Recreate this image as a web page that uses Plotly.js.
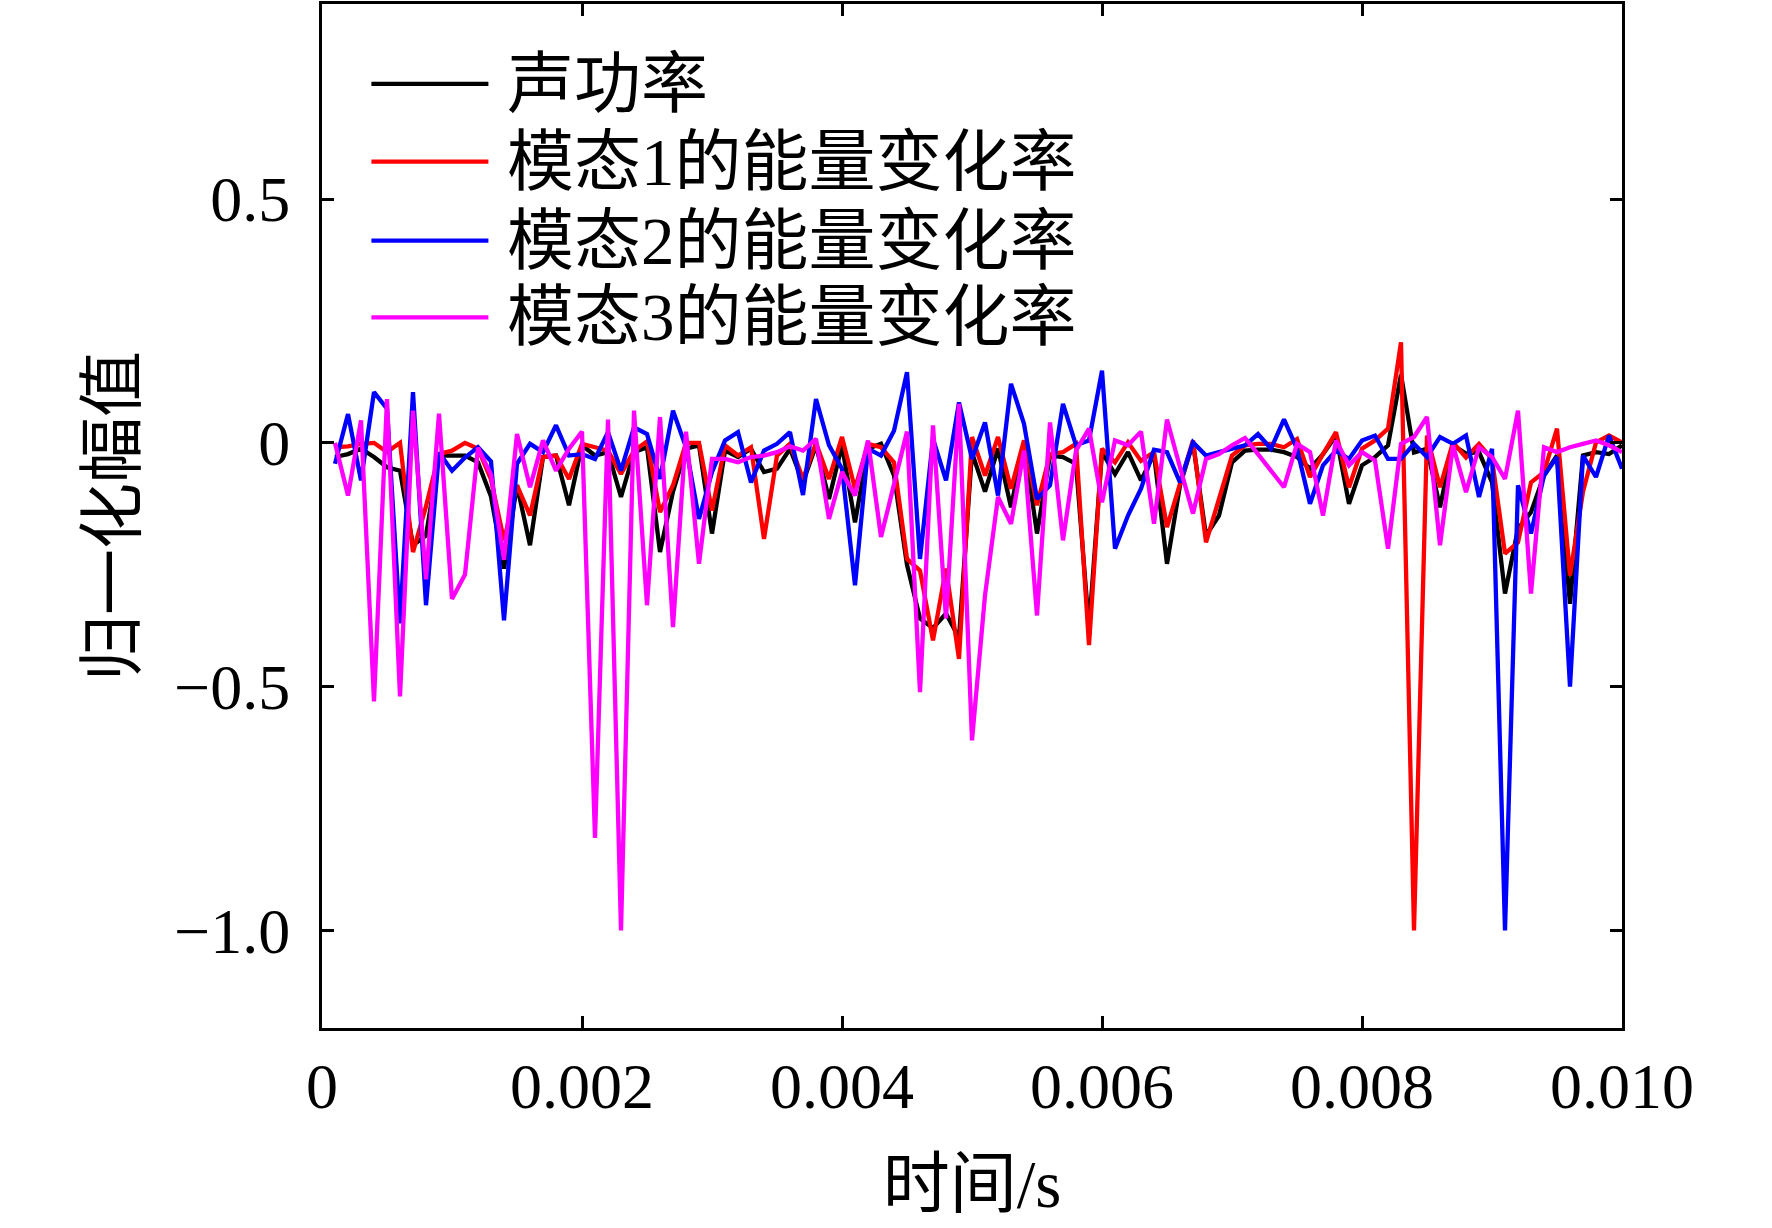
<!DOCTYPE html>
<html>
<head>
<meta charset="utf-8">
<script src="https://cdn.plot.ly/plotly-3.0.1.min.js"></script>
<style>
  html, body { margin: 0; padding: 0; background: #fff; }
  #myDiv { width: 1772px; height: 1228px; }
</style>
</head>
<body>
<div id="myDiv"></div>
<script>
// time, s (one sample every 0.1 ms)
var time = [
  0.0001, 0.0002, 0.0003, 0.0004, 0.0005, 0.0006, 0.0007, 0.0008, 0.0009, 0.0010,
  0.0011, 0.0012, 0.0013, 0.0014, 0.0015, 0.0016, 0.0017, 0.0018, 0.0019, 0.0020,
  0.0021, 0.0022, 0.0023, 0.0024, 0.0025, 0.0026, 0.0027, 0.0028, 0.0029, 0.0030,
  0.0031, 0.0032, 0.0033, 0.0034, 0.0035, 0.0036, 0.0037, 0.0038, 0.0039, 0.0040,
  0.0041, 0.0042, 0.0043, 0.0044, 0.0045, 0.0046, 0.0047, 0.0048, 0.0049, 0.0050,
  0.0051, 0.0052, 0.0053, 0.0054, 0.0055, 0.0056, 0.0057, 0.0058, 0.0059, 0.0060,
  0.0061, 0.0062, 0.0063, 0.0064, 0.0065, 0.0066, 0.0067, 0.0068, 0.0069, 0.0070,
  0.0071, 0.0072, 0.0073, 0.0074, 0.0075, 0.0076, 0.0077, 0.0078, 0.0079, 0.0080,
  0.0081, 0.0082, 0.0083, 0.0084, 0.0085, 0.0086, 0.0087, 0.0088, 0.0089, 0.0090,
  0.0091, 0.0092, 0.0093, 0.0094, 0.0095, 0.0096, 0.0097, 0.0098, 0.0099, 0.0100
];

// 声功率
var soundPower = [
  -0.029, -0.023, -0.012, -0.029, -0.050, -0.057, -0.210, -0.190, -0.026, -0.026,
  -0.026, -0.040, -0.110, -0.258, -0.087, -0.210, -0.029, -0.026, -0.128, -0.005,
  -0.026, -0.019, -0.111, -0.019, -0.009, -0.224, -0.100, -0.012, -0.005, -0.186,
  -0.016, -0.029, -0.012, -0.060, -0.053, -0.012, -0.081, -0.005, -0.115, -0.005,
  -0.163, -0.012, -0.002, -0.067, -0.250, -0.360, -0.380, -0.350, -0.400, -0.020,
  -0.100, -0.012, -0.132, 0.000, -0.186, -0.026, -0.029, -0.043, -0.380, -0.019,
  -0.064, -0.019, -0.077, -0.023, -0.248, -0.087, 0.000, -0.190, -0.149, -0.040,
  -0.016, -0.014, -0.014, -0.019, -0.029, -0.053, -0.023, 0.015, -0.125, -0.046,
  -0.029, -0.005, 0.140, -0.020, -0.012, -0.132, -0.005, -0.022, -0.019, -0.081,
  -0.309, -0.176, -0.142, -0.067, -0.026, -0.330, -0.026, -0.019, -0.023, -0.005
];

// 模态1的能量变化率
var mode1 = [
  -0.009, -0.007, -0.002, 0.000, -0.019, 0.000, -0.224, -0.130, -0.023, -0.016,
  0.000, -0.012, -0.075, -0.200, -0.087, -0.149, -0.029, -0.026, -0.074, -0.002,
  -0.009, -0.016, -0.064, -0.016, 0.003, -0.142, -0.087, 0.000, 0.000, -0.139,
  -0.005, -0.026, -0.009, -0.197, -0.026, -0.002, -0.074, 0.000, -0.074, 0.012,
  -0.094, -0.002, -0.009, -0.040, -0.238, -0.262, -0.405, -0.258, -0.443, 0.012,
  -0.067, 0.012, -0.094, 0.005, -0.128, -0.023, -0.019, -0.002, -0.415, -0.012,
  -0.040, 0.001, -0.037, -0.019, -0.173, -0.087, 0.005, -0.204, -0.115, -0.026,
  -0.005, -0.002, -0.002, -0.009, 0.008, -0.070, -0.023, 0.022, -0.091, -0.012,
  0.005, 0.029, 0.206, -1.000, 0.015, -0.091, 0.001, -0.030, -0.002, -0.033,
  -0.227, -0.204, -0.081, -0.060, 0.029, -0.272, -0.100, 0.001, 0.015, 0.001
];

// 模态2的能量变化率
var mode2 = [
  -0.043, 0.059, -0.077, 0.104, 0.070, -0.370, 0.104, -0.333, -0.020, -0.057,
  -0.030, -0.009, -0.038, -0.364, -0.043, -0.002, -0.019, 0.036, -0.026, -0.023,
  -0.033, 0.022, -0.057, 0.032, 0.018, -0.074, 0.066, -0.009, -0.156, -0.060,
  0.005, 0.022, -0.081, -0.016, -0.002, 0.022, -0.107, 0.090, -0.005, -0.053,
  -0.292, -0.012, -0.026, 0.025, 0.145, -0.238, 0.008, -0.077, 0.083, -0.033,
  0.042, -0.108, 0.121, 0.039, -0.115, -0.087, 0.080, -0.005, 0.005, 0.148,
  -0.217, -0.149, -0.094, -0.014, -0.019, -0.081, 0.001, -0.026, -0.019, -0.012,
  -0.005, 0.018, -0.012, 0.048, -0.012, -0.125, -0.046, -0.016, -0.033, 0.005,
  0.015, -0.033, -0.033, -0.002, -0.029, 0.012, -0.002, 0.015, -0.111, -0.012,
  -1.000, -0.087, -0.186, -0.067, -0.029, -0.500, -0.026, -0.070, 0.015, -0.053
];

// 模态3的能量变化率
var mode3 = [
  0.000, -0.108, 0.046, -0.530, 0.090, -0.520, 0.066, -0.280, 0.060, -0.320,
  -0.270, -0.010, -0.065, -0.240, 0.018, -0.091, 0.005, -0.057, -0.012, 0.023,
  -0.810, 0.048, -1.000, 0.066, -0.333, 0.053, -0.378, 0.023, -0.248, -0.033,
  -0.033, -0.040, -0.029, -0.026, -0.019, -0.007, -0.016, 0.008, -0.156, -0.060,
  -0.108, 0.005, -0.193, -0.084, 0.023, -0.511, 0.036, -0.360, 0.080, -0.610,
  -0.313, -0.111, -0.166, -0.016, -0.354, 0.042, -0.200, -0.016, 0.029, -0.122,
  0.005, -0.005, 0.023, -0.166, 0.048, -0.050, -0.145, -0.033, -0.023, -0.005,
  0.010, -0.023, -0.057, -0.091, -0.002, -0.019, -0.149, 0.005, -0.046, -0.019,
  -0.036, -0.217, -0.002, 0.012, 0.053, -0.210, -0.005, -0.101, -0.009, -0.029,
  -0.074, 0.066, -0.309, -0.009, -0.019, -0.009, -0.002, 0.005, -0.005, -0.019
];

var seriesNames = ['声功率', '模态1的能量变化率', '模态2的能量变化率', '模态3的能量变化率'];
var seriesColors = ['#000000', '#ff0000', '#0000ff', '#ff00ff'];

var xTickVals = [0, 0.002, 0.004, 0.006, 0.008, 0.010];
var xTickText = ['0', '0.002', '0.004', '0.006', '0.008', '0.010'];
var yTickVals = [-1.0, -0.5, 0, 0.5];
var yTickText = ['\u22121.0', '\u22120.5', '0', '0.5'];

var FONT = 'Liberation Serif, "Times New Roman", "Noto Sans CJK SC", serif';

function drawChart() {
  var allY = [soundPower, mode1, mode2, mode3];
  var data = [];
  for (var i = 0; i < allY.length; i++) {
    data.push({
      x: time,
      y: allY[i],
      name: seriesNames[i],
      type: 'scatter',
      mode: 'lines',
      line: { color: seriesColors[i], width: 4.3 },
      showlegend: false
    });
  }

  // legend drawn by hand so the sample lines can be as long as in the figure
  var shapes = [];
  var annotations = [];
  var rowY = [0.922, 0.846, 0.769, 0.694];
  for (var k = 0; k < seriesNames.length; k++) {
    shapes.push({
      type: 'line', xref: 'paper', yref: 'paper',
      x0: 0.038, x1: 0.128, y0: rowY[k], y1: rowY[k],
      line: { color: seriesColors[k], width: 4.3 }
    });
    annotations.push({
      xref: 'paper', yref: 'paper', x: 0.141, y: rowY[k],
      xanchor: 'left', yanchor: 'middle', showarrow: false,
      text: seriesNames[k],
      font: { family: FONT, size: 67, color: '#000' }
    });
  }

  var axisCommon = {
    showline: true, linecolor: '#000', linewidth: 3, mirror: 'ticks',
    ticks: 'inside', ticklen: 12, tickwidth: 3, tickcolor: '#000',
    showgrid: false, zeroline: false,
    tickfont: { family: FONT, size: 64, color: '#000' }
  };

  var layout = {
    width: 1772, height: 1228,
    paper_bgcolor: '#fff', plot_bgcolor: '#fff',
    margin: { l: 322, r: 150, t: 4, b: 200 },
    showlegend: false,
    xaxis: Object.assign({}, axisCommon, {
      range: [0, 0.010],
      tickmode: 'array', tickvals: xTickVals, ticktext: xTickText,
      ticklabelstandoff: 0,
      title: { text: '时间/s', font: { family: FONT, size: 67, color: '#000' }, standoff: 40 }
    }),
    yaxis: Object.assign({}, axisCommon, {
      range: [-1.2, 0.9],
      tickmode: 'array', tickvals: yTickVals, ticktext: yTickText,
      ticklabelstandoff: 16,
      title: { text: '归一化幅值', font: { family: FONT, size: 66, color: '#000' }, standoff: 18 }
    }),
    shapes: shapes,
    annotations: annotations
  };

  Plotly.newPlot('myDiv', data, layout, { staticPlot: true });
}

window.addEventListener('load', drawChart, false);
</script>
</body>
</html>
